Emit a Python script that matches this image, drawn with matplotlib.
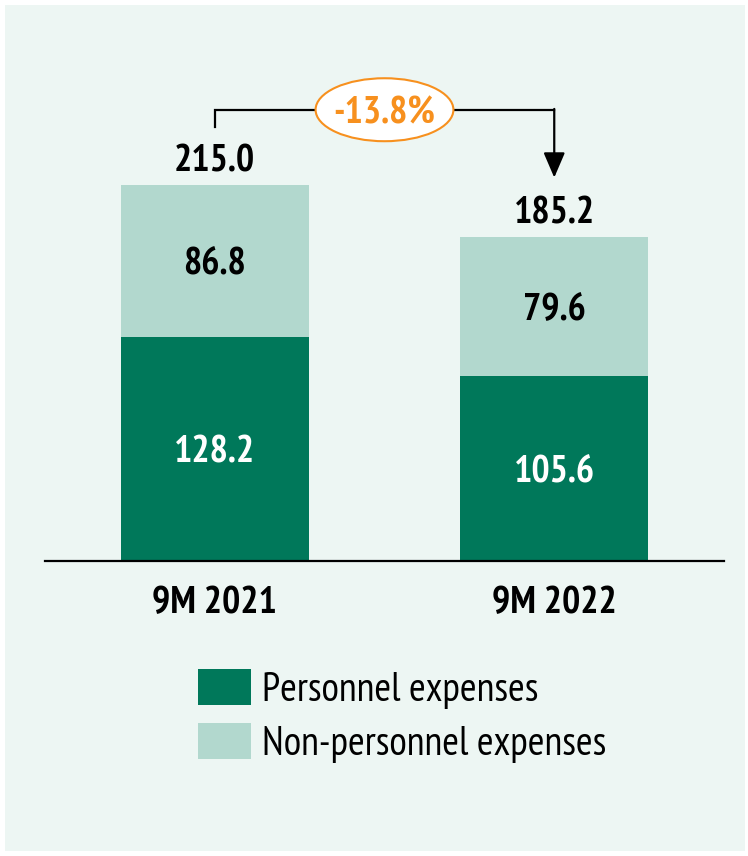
import matplotlib
matplotlib.use("Agg")
import matplotlib.pyplot as plt
from matplotlib.patches import Ellipse, Patch, Rectangle

# data
periods = ["9M 2021", "9M 2022"]
personnel = [128.2, 105.6]
non_personnel = [86.8, 79.6]
totals = [215.0, 185.2]
change_label = "-13.8%"

DARK = "#00785A"
LIGHT = "#B2D8CE"
BG = "#EDF6F3"
ORANGE = "#F7901E"
NARROW = ["PT Sans Narrow", "DejaVu Sans"]

plt.rcParams["font.family"] = NARROW

fig = plt.figure(figsize=(7.48, 8.56), dpi=100, facecolor="white")
fig.add_artist(Rectangle((5 / 748, 5 / 856), 740 / 748, 846 / 856,
                         transform=fig.transFigure, facecolor=BG,
                         edgecolor="none", zorder=0))

ax = fig.add_axes([45 / 748, 295 / 856, 679 / 748, 541 / 856])
ax.set_facecolor("none")
x = range(len(periods))
ax.bar(x, personnel, width=0.553, color=DARK, zorder=2)
ax.bar(x, non_personnel, bottom=personnel, width=0.553, color=LIGHT, zorder=2)
ax.set_xlim(-0.5, 1.5)
ax.set_ylim(0, 309.3)

lbl = dict(ha="center", va="center_baseline", fontsize=27.5, fontweight="bold")
for i in x:
    ax.text(i, personnel[i] / 2, f"{personnel[i]:.1f}", color="white", **lbl)
    ax.text(i, personnel[i] + non_personnel[i] / 2, f"{non_personnel[i]:.1f}",
            color="black", **lbl)
    ax.text(i, totals[i] + 15.5, f"{totals[i]:.1f}", color="black", **lbl)
    ax.text(i, -22, periods[i], color="black", **lbl)

# change bracket
top = max(totals) + 43
ax.plot([0, 0, 1], [totals[0] + 33, top, top], color="black", lw=1.6,
        solid_joinstyle="miter", zorder=3)
ax.annotate("", xy=(1, totals[1] + 34), xytext=(1, top + 0.45),
            arrowprops=dict(arrowstyle="-|>,head_length=0.7,head_width=0.3",
                            mutation_scale=22, lw=1.6, color="black",
                            shrinkA=0, shrinkB=0), zorder=3)
ax.add_patch(Ellipse((0.5, top), 0.406, 36, facecolor="white",
                     edgecolor=ORANGE, lw=1.5, zorder=4))
ax.text(0.5, top, change_label, color=ORANGE, zorder=5, **lbl)

for s in ["top", "right", "left"]:
    ax.spines[s].set_visible(False)
ax.spines["bottom"].set_linewidth(1.6)
ax.set_xticks([])
ax.set_yticks([])

handles = [Patch(facecolor=DARK, edgecolor="none"),
           Patch(facecolor=LIGHT, edgecolor="none")]
fig.legend(handles, ["Personnel expenses", "Non-personnel expenses"],
           loc="upper left", bbox_to_anchor=(198 / 748, 1 - 669 / 856),
           frameon=False, fontsize=29, handlelength=1.31, handleheight=1.0,
           handletextpad=0.27, labelspacing=0.35, borderpad=0, borderaxespad=0)

fig.savefig("out.png", dpi=100, facecolor="white")
